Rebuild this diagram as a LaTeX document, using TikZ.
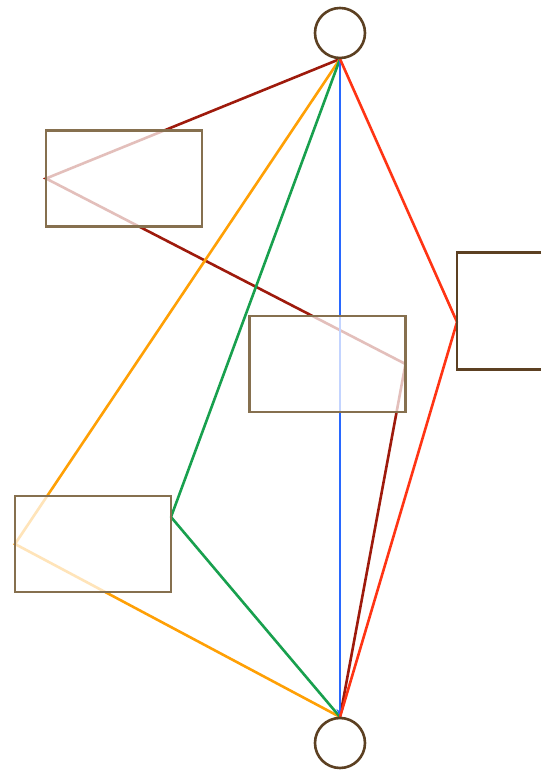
\documentclass[tikz,border=0pt]{standalone}
\usetikzlibrary{arrows.meta}
\definecolor{rimbrown}{HTML}{5C4022}
\definecolor{boxbrown}{HTML}{86704F}
\definecolor{wirered}{HTML}{9E1A0C}
\definecolor{wireorange}{HTML}{FFA005}
\definecolor{wiregreen}{HTML}{18A04E}
\definecolor{wireblue}{HTML}{2868FF}
\definecolor{wirebright}{HTML}{FF3414}
\tikzset{
  term/.style={draw=rimbrown,circle,line width=2.6pt,minimum size=50pt,inner sep=0pt,fill=white},
  slot/.style={draw=boxbrown,rectangle,line width=2.6pt,minimum width=156pt,minimum height=96pt,inner sep=0pt,fill=white,fill opacity=0.72},
  wire/.style={line width=2.6pt}
}

\begin{document}
\begin{tikzpicture}[>=Stealth]
  \fill[white] (0pt,0pt) rectangle (540pt,771pt);
  % meeting points of the wires
  \coordinate (apex) at (340pt,712pt);
  \coordinate (foot) at (340pt,54pt);
  \coordinate (p1) at (46pt,592.5pt);
  \coordinate (p2) at (405.5pt,407pt);
  \coordinate (p3) at (15pt,227pt);
  \coordinate (g3) at (171pt,254pt);
  \coordinate (r4) at (457pt,449pt);
  % wires under the boxes
  \draw[wire,wirered] (apex) -- (p1) -- (p2) -- (foot);
  \draw[wire,wireorange] (apex) -- (p3) -- (foot);
  \draw[wire,wiregreen] (apex) -- (g3) -- (foot);
  \draw[wire,wireblue,-{Stealth[length=8pt,width=7pt]}] (apex) -- (foot);
  \draw[wire,wirebright] (apex) -- (r4) -- (foot);
  % boxes and terminals
  \node[slot] (s1) at (124pt,592.5pt) {};
  \node[slot] (s2) at (327.5pt,407pt) {};
  \node[slot] (s3) at (93pt,227pt) {};
  \fill[white,fill opacity=0.72] (457pt,518.5pt) rectangle (540pt,401.5pt);
  \draw[line width=2.6pt,rimbrown] (541pt,518.5pt) -- (457pt,518.5pt) -- (457pt,401.5pt) -- (541pt,401.5pt);
  \node[term] (top) at (340pt,738pt) {};
  \node[term] (bot) at (340pt,28pt) {};
\end{tikzpicture}
\end{document}
